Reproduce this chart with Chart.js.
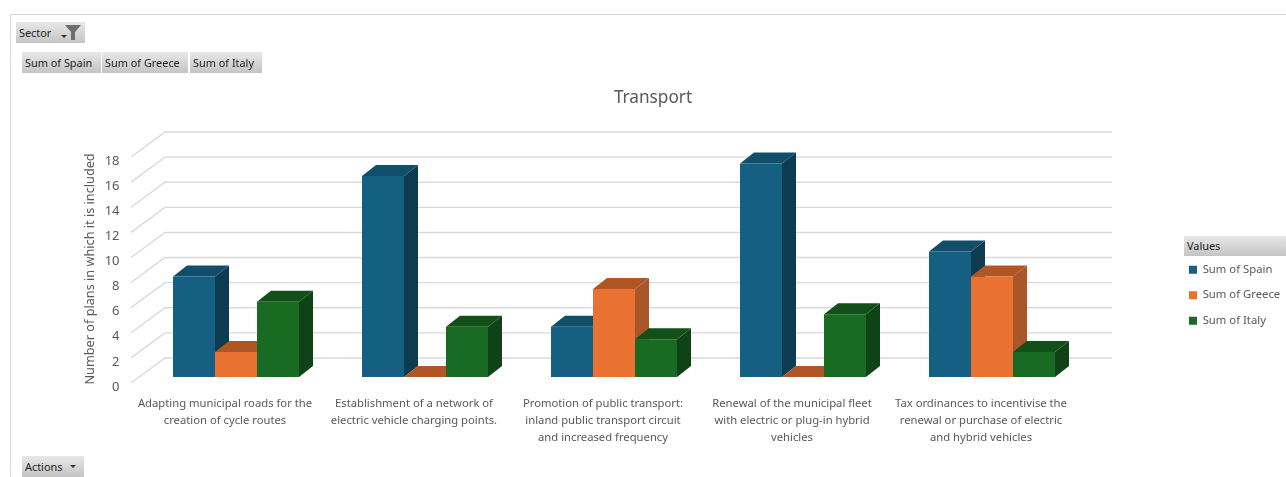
<!DOCTYPE html>
<html><head><meta charset="utf-8">
<script src="https://cdn.jsdelivr.net/npm/chart.js@4"></script>
<style>
html,body{margin:0;padding:0;background:#fff;width:1286px;height:477px;overflow:hidden}
#wrap{position:relative;width:1286px;height:477px}
canvas{position:absolute;left:0;top:0}
#frameT{position:absolute;left:10px;top:14px;width:1276px;height:1px;background:#d9d9d9}
#frameL{position:absolute;left:10px;top:14px;width:1px;height:463px;background:#d9d9d9}
.btn{position:absolute;height:21px;font:10.9px/21px "Noto Sans",sans-serif;color:#222;
 background:linear-gradient(#e8e8e8,#c4c4c4);padding-left:3px;box-sizing:border-box;white-space:nowrap}
.arrow{position:absolute;width:0;height:0;border-left:3px solid transparent;border-right:3px solid transparent;border-top:3px solid #333}
</style></head><body>
<div id="wrap">
<canvas id="c" width="1286" height="477"></canvas>
<div id="frameT"></div><div id="frameL"></div>
<div class="btn" style="left:16px;top:22px;width:69px">Sector
 <span class="arrow" style="left:45px;top:13px"></span>
 <svg style="position:absolute;left:49px;top:3px" width="16" height="15" viewBox="0 0 16 15"><path d="M0 0H16L10 7V15H6V7Z" fill="#6e6e6e"/></svg>
</div>
<div id="fields"></div>
<div class="btn" style="left:22px;top:456px;width:62px">Actions
 <span class="arrow" style="left:48px;top:9px"></span></div>
<div class="btn" style="left:1184px;top:236px;width:102px;height:20px;line-height:20px">Values</div>
</div>
<script>
const categories = [
  ["Adapting municipal roads for the","creation of cycle routes"],
  ["Establishment of a network of","electric vehicle charging points."],
  ["Promotion of public transport:","inland public transport circuit","and increased frequency"],
  ["Renewal of the municipal fleet","with electric or plug-in hybrid","vehicles"],
  ["Tax ordinances to incentivise the","renewal or purchase of electric","and hybrid vehicles"]
];
const spain  = [8,16,4,17,10];
const greece = [2,0,7,0,8];
const italy  = [6,4,3,5,2];
const seriesNames = ["Sum of Spain","Sum of Greece","Sum of Italy"];
const frontColors = ["#156082","#E97132","#196B24"];
const sideColors  = ["#0D3B50","#A8562A","#0F4216"];
const topColors   = ["#114E69","#B05625","#135019"];
const chartTitle = "Transport";
const yAxisTitle = "Number of plans in which it is included";

const fieldPos=[[22,79],[102,86],[190,72]];
seriesNames.forEach((n,i)=>{
  const d=document.createElement('div');d.className='btn';d.textContent=n;
  d.style.cssText=`left:${fieldPos[i][0]}px;top:52px;width:${fieldPos[i][1]}px`;
  document.getElementById('fields').appendChild(d);
});

const FONT='"Noto Sans",sans-serif', GREY='#595959';
const DX=14, DY=11;          // bar depth
const WALL_DX=23.5, WALL_DY=19, FLOOR_DX=34, FLOOR_DY=25;

const threeD={
  id:'threeD',
  afterLayout(chart){
    const l=chart.legend;
    const pad=l.options.labels.padding;
    const h=l.bottom-l.top, w=l.right-l.left;
    l.left=1189-pad; l.right=l.left+w;
    l.top=264-pad; l.bottom=l.top+h;
    const t=chart.titleBlock, tw=t.right-t.left, c=653;
    t.left=c-tw/2; t.right=c+tw/2;
  },
  beforeDatasetsDraw(chart){
    const {ctx,chartArea:a,scales:{y}}=chart;
    ctx.save();
    ctx.strokeStyle='#d9d9d9';ctx.lineWidth=1.4;
    y.ticks.forEach(t=>{
      const p=y.getPixelForValue(t.value)-WALL_DY;
      ctx.beginPath();
      ctx.moveTo(a.left+WALL_DX-FLOOR_DX,p+FLOOR_DY);
      ctx.lineTo(a.left+WALL_DX,p);
      ctx.lineTo(a.right+25.5,p);
      ctx.stroke();
    });
    const n=chart.data.labels.length;
    for(let j=0;j<n;j++){
      chart.data.datasets.forEach((ds,i)=>{
        const b=chart.getDatasetMeta(i).data[j];
        const l=b.x-b.width/2,r=b.x+b.width/2,t=b.y,bo=b.base;
        ctx.fillStyle=sideColors[i];
        ctx.beginPath();ctx.moveTo(r,t);ctx.lineTo(r+DX,t-DY);ctx.lineTo(r+DX,bo-DY);ctx.lineTo(r,bo);ctx.closePath();ctx.fill();
        ctx.fillStyle=topColors[i];
        ctx.beginPath();ctx.moveTo(l,t);ctx.lineTo(l+DX,t-DY);ctx.lineTo(r+DX,t-DY);ctx.lineTo(r,t);ctx.closePath();ctx.fill();
      });
    }
    ctx.restore();
  }
};

const chart=new Chart(document.getElementById('c'),{
  type:'bar',
  data:{labels:categories,datasets:[
    {label:seriesNames[0],data:spain,backgroundColor:frontColors[0]},
    {label:seriesNames[1],data:greece,backgroundColor:frontColors[1]},
    {label:seriesNames[2],data:italy,backgroundColor:frontColors[2]}
  ]},
  plugins:[threeD],
  options:{
    responsive:false,animation:false,
    layout:{padding:{left:20,right:100,top:0,bottom:0}},
    datasets:{bar:{barPercentage:1,categoryPercentage:2/3}},
    plugins:{
      tooltip:{enabled:false},
      title:{display:true,text:chartTitle,color:GREY,font:{family:FONT,size:17.2,weight:'normal',lineHeight:1.2},padding:{top:87.5,bottom:42.86}},
      legend:{position:'right',align:'start',
        labels:{boxWidth:8,boxHeight:8,padding:14.2,color:GREY,font:{family:FONT,size:11.3}}}
    },
    scales:{
      x:{grid:{display:false},border:{display:false},
        afterFit(s){s.height=100;},
        ticks:{autoSkip:false,maxRotation:0,minRotation:0,padding:11,labelOffset:-11,color:GREY,
          font:{family:FONT,size:11.25,lineHeight:1.47}}},
      y:{min:0,max:18,grid:{display:false},border:{display:false},
        afterFit(s){s.width=121.5;},
        title:{display:true,text:yAxisTitle+'\u00a0\u00a0\u00a0',color:GREY,font:{family:FONT,size:12.7},padding:{top:63,bottom:0}},
        ticks:{stepSize:2,padding:14,labelOffset:10,color:GREY,font:{family:FONT,size:13}}}
    }
  }
});
chart.options.layout.padding.right=199.5-chart.legend.width;
chart.update();
</script>
</body></html>
